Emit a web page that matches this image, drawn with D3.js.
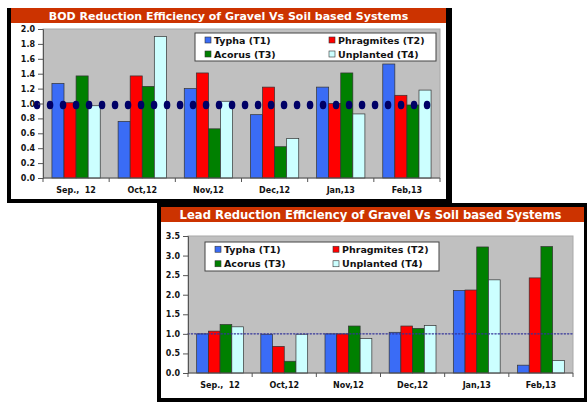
<!DOCTYPE html>
<html>
<head>
<meta charset="utf-8">
<script src="https://cdn.jsdelivr.net/npm/d3@7"></script>
<style>
  body { margin: 0; background: #fff; }
  svg { display: block; font-family: "DejaVu Sans", Verdana, sans-serif; }
</style>
</head>
<body>
<div class="center"></div>
<script>
// categories and series
var months = ["Sep.,  12", "Oct,12", "Nov,12", "Dec,12", "Jan,13", "Feb,13"];
var seriesNames = ["Typha (T1)", "Phragmites (T2)", "Acorus (T3)", "Unplanted (T4)"];
var seriesColors = ["#3a6cf6", "#ff0000", "#008000", "#ccffff"];

// BOD reduction efficiency, one array per treatment
var bodT1 = [1.27, 0.76, 1.20, 0.85, 1.22, 1.53];
var bodT2 = [1.01, 1.37, 1.41, 1.22, 1.00, 1.11];
var bodT3 = [1.37, 1.23, 0.66, 0.42, 1.41, 0.98];
var bodT4 = [0.97, 1.90, 1.03, 0.53, 0.86, 1.18];
var bodTicks = [0, 0.2, 0.4, 0.6, 0.8, 1.0, 1.2, 1.4, 1.6, 1.8, 2.0];

// Lead reduction efficiency
var leadT1 = [1.00, 0.99, 1.00, 1.04, 2.11, 0.20];
var leadT2 = [1.07, 0.68, 1.00, 1.20, 2.12, 2.43];
var leadT3 = [1.24, 0.30, 1.20, 1.14, 3.22, 3.23];
var leadT4 = [1.18, 0.99, 0.88, 1.21, 2.38, 0.32];
var leadTicks = [0, 0.5, 1.0, 1.5, 2.0, 2.5, 3.0, 3.5];

var reference = 1.0;

var svg = d3.select(".center").append("svg")
    .attr("width", 587)
    .attr("height", 402);

function drawPanel(opt) {
    var g = svg.append("g");

    // black frame + white inside
    g.append("rect")
        .attr("x", opt.frame[0]).attr("y", opt.frame[1])
        .attr("width", opt.frame[2] - opt.frame[0])
        .attr("height", opt.frame[3] - opt.frame[1])
        .style("fill", "#000");
    g.append("rect")
        .attr("x", opt.frame[0] + 4).attr("y", opt.frame[1] + (opt.topBorder ? 4 : 0))
        .attr("width", opt.frame[2] - opt.frame[0] - 4 - opt.rightBorder)
        .attr("height", opt.frame[3] - opt.frame[1] - (opt.topBorder ? 4 : 0) - 4)
        .style("fill", "#fff");

    // title bar
    var tx = opt.frame[0] + 4, ty = opt.frame[1] + (opt.topBorder ? 4 : 0);
    var tw = opt.frame[2] - opt.frame[0] - 4 - opt.rightBorder;
    g.append("rect")
        .attr("x", tx).attr("y", ty)
        .attr("width", tw).attr("height", 15)
        .style("fill", "#cc3300");
    g.append("text")
        .attr("x", tx + tw / 2 + opt.titleShift)
        .attr("y", ty + 11.5)
        .attr("text-anchor", "middle")
        .style("fill", "#fff")
        .style("font-weight", "bold")
        .style("font-size", opt.titleSize + "px")
        .text(opt.title);

    // scales
    var x = d3.scaleBand().domain(months)
        .range([opt.plot[0], opt.plot[2]])
        .paddingInner(0.27).paddingOuter(0.135);
    var xs = d3.scaleBand().domain(d3.range(seriesNames.length))
        .range([0, x.bandwidth()]);
    var y = d3.scaleLinear().domain([0, opt.ymax])
        .range([opt.plot[3], opt.plot[1]]);

    // plot background
    g.append("rect")
        .attr("x", opt.plot[0]).attr("y", opt.plot[1])
        .attr("width", opt.plot[2] - opt.plot[0])
        .attr("height", opt.plot[3] - opt.plot[1])
        .style("fill", "#c0c0c0")
        .style("stroke", "#a8a8a8")
        .style("stroke-width", 1);

    // bars
    var rows = [];
    opt.series.forEach(function(vals, s) {
        vals.forEach(function(v, i) {
            rows.push({month: months[i], s: s, v: v});
        });
    });
    g.selectAll("rect.bar")
        .data(rows)
        .enter().append("rect")
        .attr("class", "bar")
        .attr("x", function(d) { return x(d.month) + xs(d.s); })
        .attr("y", function(d) { return y(d.v); })
        .attr("width", xs.bandwidth())
        .attr("height", function(d) { return y(0) - y(d.v); })
        .style("fill", function(d) { return seriesColors[d.s]; })
        .style("stroke", "#333")
        .style("stroke-width", 0.7);

    // reference line at 1.0
    var ry = y(reference) + opt.refShift;
    g.append("line")
        .attr("x1", opt.refFrom).attr("x2", opt.plot[2] - opt.refEndGap)
        .attr("y1", ry).attr("y2", ry)
        .attr("transform", "translate(0," + ry + ") scale(1," + opt.refStretch + ") translate(0," + (-ry) + ")")
        .style("stroke", opt.refColor)
        .style("stroke-width", opt.refWidth)
        .style("stroke-linecap", "round")
        .style("stroke-dasharray", opt.refDash);

    // y axis
    var yAxis = g.append("g")
        .attr("transform", "translate(" + opt.plot[0] + ",0)")
        .call(d3.axisLeft(y).tickValues(opt.ticks).tickFormat(d3.format(".1f"))
            .tickSize(5).tickPadding(3));
    yAxis.select(".domain").style("stroke", "#555");
    yAxis.selectAll(".tick line").style("stroke", "#555");
    yAxis.selectAll("text")
        .style("font-size", "8px")
        .style("font-weight", "bold")
        .style("fill", "#111")
        .style("font-family", "'DejaVu Sans', Verdana, sans-serif");

    // x axis: ticks sit between the categories
    var bounds = d3.range(months.length + 1).map(function(i) {
        return opt.plot[0] + i * (opt.plot[2] - opt.plot[0]) / months.length;
    });
    g.append("line")
        .attr("x1", opt.plot[0]).attr("x2", opt.plot[2])
        .attr("y1", y(0)).attr("y2", y(0))
        .style("stroke", "#555");
    g.selectAll("line.xt")
        .data(bounds)
        .enter().append("line")
        .attr("class", "xt")
        .attr("x1", function(d) { return d; }).attr("x2", function(d) { return d; })
        .attr("y1", y(0)).attr("y2", y(0) + 4)
        .style("stroke", "#555");
    g.selectAll("text.xl")
        .data(months)
        .enter().append("text")
        .attr("class", "xl")
        .attr("x", function(d) { return x(d) + x.bandwidth() / 2; })
        .attr("y", y(0) + 15)
        .attr("text-anchor", "middle")
        .attr("xml:space", "preserve")
        .style("font-size", "8px")
        .style("font-weight", "bold")
        .style("fill", "#111")
        .style("white-space", "pre")
        .text(function(d) { return d; });

    // legend
    var lg = g.append("g");
    lg.append("rect")
        .attr("x", opt.legend[0]).attr("y", opt.legend[1])
        .attr("width", opt.legend[2] - opt.legend[0])
        .attr("height", opt.legend[3] - opt.legend[1])
        .style("fill", "#fff")
        .style("stroke", "#444")
        .style("stroke-width", 1);
    var lh = (opt.legend[3] - opt.legend[1]) / 2;
    seriesNames.forEach(function(name, i) {
        var col = i % 2, row = Math.floor(i / 2);
        var lx = opt.legend[0] + 10 + col * opt.legendCol;
        var ly = opt.legend[1] + lh * row + lh / 2;
        lg.append("rect")
            .attr("x", lx).attr("y", ly - 3)
            .attr("width", 6).attr("height", 6)
            .style("fill", seriesColors[i])
            .style("stroke", "#333")
            .style("stroke-width", 0.6);
        lg.append("text")
            .attr("x", lx + 9).attr("y", ly + 3.5)
            .style("font-size", "9.5px")
            .style("font-weight", "bold")
            .style("fill", "#111")
            .text(name);
    });
}

drawPanel({
    frame: [7, 8, 452, 203],
    topBorder: false,
    rightBorder: 6,
    title: "BOD Reduction Efficiency of Gravel Vs Soil based Systems",
    titleSize: 11,
    titleShift: 0,
    plot: [43, 29, 440, 178],
    ymax: 2.0,
    ticks: bodTicks,
    series: [bodT1, bodT2, bodT3, bodT4],
    refFrom: 37, refEndGap: 12, refShift: 1.5, refStretch: 1.3,
    refColor: "#000066", refWidth: 6.5, refDash: "0.1 12.9",
    legend: [195, 33, 436, 61],
    legendCol: 124
});

drawPanel({
    frame: [157, 203, 587, 402],
    topBorder: true,
    rightBorder: 3,
    title: "Lead Reduction Efficiency of Gravel Vs Soil based Systems",
    titleSize: 11.6,
    titleShift: -2,
    plot: [188, 236, 573, 373],
    ymax: 3.5,
    ticks: leadTicks,
    series: [leadT1, leadT2, leadT3, leadT4],
    refFrom: 188, refEndGap: 0, refShift: 0, refStretch: 1,
    refColor: "#333399", refWidth: 1.3, refDash: "1.3 2",
    legend: [205, 242, 439, 271],
    legendCol: 118
});
</script>
</body>
</html>
